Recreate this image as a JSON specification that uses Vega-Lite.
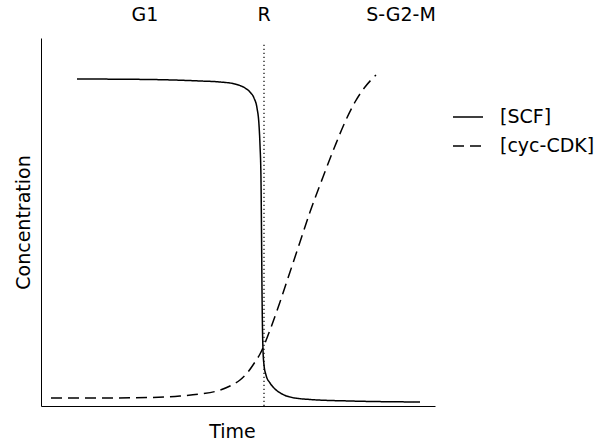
{
  "$schema": "https://vega.github.io/schema/vega-lite/v6.json",
  "autosize": {"type": "none"},
  "padding": {"left": 41, "top": 38, "right": 164, "bottom": 39},
  "width": 394,
  "height": 368,
  "background": "white",
  "config": {
    "font": "DejaVu Sans",
    "view": {"stroke": null},
    "axis": {"grid": false, "ticks": false, "labels": false, "domainColor": "black", "domainWidth": 1, "titleFont": "DejaVu Sans", "titleFontSize": 19, "titleFontWeight": "normal", "titleColor": "black"}
  },
  "datasets": {
    "curves": [
      {"species": "[SCF]", "t": 36, "c": 327},
      {"species": "[SCF]", "t": 109, "c": 326.5},
      {"species": "[SCF]", "t": 159, "c": 325},
      {"species": "[SCF]", "t": 179, "c": 324},
      {"species": "[SCF]", "t": 194, "c": 322},
      {"species": "[SCF]", "t": 204, "c": 318},
      {"species": "[SCF]", "t": 209, "c": 314},
      {"species": "[SCF]", "t": 213, "c": 308},
      {"species": "[SCF]", "t": 216, "c": 298},
      {"species": "[SCF]", "t": 218, "c": 281},
      {"species": "[SCF]", "t": 219, "c": 261},
      {"species": "[SCF]", "t": 220, "c": 226},
      {"species": "[SCF]", "t": 220.5, "c": 176},
      {"species": "[SCF]", "t": 221, "c": 116},
      {"species": "[SCF]", "t": 221.5, "c": 76},
      {"species": "[SCF]", "t": 222, "c": 56},
      {"species": "[SCF]", "t": 223, "c": 41},
      {"species": "[SCF]", "t": 225, "c": 31},
      {"species": "[SCF]", "t": 229, "c": 23},
      {"species": "[SCF]", "t": 234, "c": 17},
      {"species": "[SCF]", "t": 241, "c": 12},
      {"species": "[SCF]", "t": 249, "c": 9},
      {"species": "[SCF]", "t": 269, "c": 6.5},
      {"species": "[SCF]", "t": 309, "c": 5},
      {"species": "[SCF]", "t": 379, "c": 4},
      {"species": "[cyc-CDK]", "t": 10, "c": 8},
      {"species": "[cyc-CDK]", "t": 59, "c": 8},
      {"species": "[cyc-CDK]", "t": 109, "c": 8.5},
      {"species": "[cyc-CDK]", "t": 139, "c": 10},
      {"species": "[cyc-CDK]", "t": 159, "c": 12},
      {"species": "[cyc-CDK]", "t": 176, "c": 15},
      {"species": "[cyc-CDK]", "t": 189, "c": 20},
      {"species": "[cyc-CDK]", "t": 199, "c": 26},
      {"species": "[cyc-CDK]", "t": 207, "c": 34},
      {"species": "[cyc-CDK]", "t": 214, "c": 44},
      {"species": "[cyc-CDK]", "t": 219, "c": 52},
      {"species": "[cyc-CDK]", "t": 224, "c": 63},
      {"species": "[cyc-CDK]", "t": 229, "c": 76},
      {"species": "[cyc-CDK]", "t": 239, "c": 104},
      {"species": "[cyc-CDK]", "t": 249, "c": 134},
      {"species": "[cyc-CDK]", "t": 259, "c": 164},
      {"species": "[cyc-CDK]", "t": 269, "c": 194},
      {"species": "[cyc-CDK]", "t": 282, "c": 229},
      {"species": "[cyc-CDK]", "t": 294, "c": 260},
      {"species": "[cyc-CDK]", "t": 304, "c": 284},
      {"species": "[cyc-CDK]", "t": 314, "c": 304},
      {"species": "[cyc-CDK]", "t": 324, "c": 319},
      {"species": "[cyc-CDK]", "t": 335, "c": 331}
    ],
    "phases": [
      {"label": "G1", "t": 104, "c": 385},
      {"label": "R", "t": 223, "c": 385},
      {"label": "S-G2-M", "t": 360, "c": 385}
    ],
    "restriction": [
      {"t": 223, "c": 0, "c2": 364}
    ]
  },
  "layer": [
    {
      "data": {"name": "restriction"},
      "mark": {"type": "rule", "color": "black", "strokeWidth": 1.2, "strokeDash": [1.2, 2.8]},
      "encoding": {
        "x": {"field": "t", "type": "quantitative", "scale": {"domain": [0, 394], "nice": false, "zero": false}, "axis": {"title": "Time", "titlePadding": 16, "titleX": 191}},
        "y": {"field": "c", "type": "quantitative", "scale": {"domain": [0, 368], "nice": false, "zero": false}, "axis": {"title": "Concentration", "titlePadding": 8}},
        "y2": {"field": "c2"}
      }
    },
    {
      "data": {"name": "curves"},
      "mark": {"type": "line", "color": "black", "strokeWidth": 1.5, "interpolate": "monotone"},
      "encoding": {
        "x": {"field": "t", "type": "quantitative"},
        "y": {"field": "c", "type": "quantitative"},
        "detail": {"field": "species"},
        "strokeDash": {
          "field": "species", "type": "nominal",
          "scale": {"domain": ["[SCF]", "[cyc-CDK]"], "range": [[1, 0], [11, 6]]},
          "legend": {"title": null, "orient": "none", "legendX": 411, "legendY": 63, "symbolType": "stroke", "symbolSize": 900, "symbolStrokeWidth": 1.5, "symbolStrokeColor": "black", "labelFont": "DejaVu Sans", "labelFontSize": 19, "labelColor": "black", "labelOffset": 16, "rowPadding": 3, "labelLimit": 300}
        }
      }
    },
    {
      "data": {"name": "phases"},
      "mark": {"type": "text", "fontSize": 19, "font": "DejaVu Sans", "color": "black", "baseline": "alphabetic", "align": "center"},
      "encoding": {
        "x": {"field": "t", "type": "quantitative"},
        "y": {"field": "c", "type": "quantitative"},
        "text": {"field": "label"}
      }
    }
  ]
}
